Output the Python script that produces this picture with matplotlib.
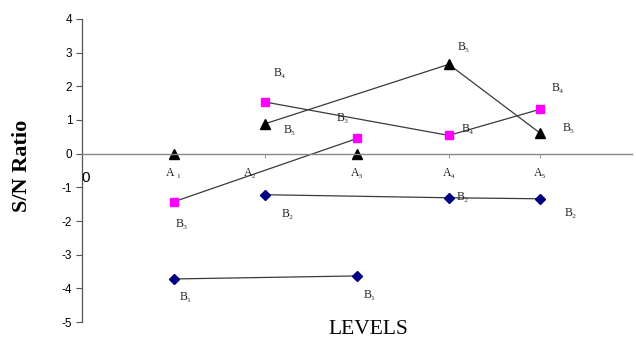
import matplotlib
matplotlib.use("Agg")
import matplotlib.pyplot as plt

# S/N ratio at each level
tri_x = [2, 4, 5]
tri_y = [0.89, 2.65, 0.60]
tri_axis_x = [1, 3]
tri_axis_y = [0.0, 0.0]

sq1_x = [1, 3]
sq1_y = [-1.43, 0.45]
sq2_x = [2, 4, 5]
sq2_y = [1.53, 0.54, 1.32]

dia1_x = [1, 3]
dia1_y = [-3.72, -3.63]
dia2_x = [2, 4, 5]
dia2_y = [-1.22, -1.31, -1.34]

level_labels = ["A \u2081", "A\u2082", "A\u2083", "A\u2084", "A\u2085"]
level_x = [1, 2, 3, 4, 5]

# data labels: (text, x, y, dx px, dy px)
point_labels = [
    ("B\u2084", 2, 1.53, 14, 29),
    ("B\u2085", 2, 0.89, 24, -6),
    ("B\u2083", 3, 0.45, -14, 20),
    ("B\u2085", 4, 2.65, 15, 17),
    ("B\u2084", 5, 1.32, 17, 21),
    ("B\u2085", 5, 0.60, 28, 5),
    ("B\u2084", 4, 0.54, 19, 6),
    ("B\u2082", 4, -1.31, 14, 1),
    ("B\u2082", 5, -1.34, 30, -14),
    ("B\u2083", 1, -1.43, 8, -22),
    ("B\u2082", 2, -1.22, 22, -19),
    ("B\u2081", 1, -3.72, 12, -18),
    ("B\u2081", 3, -3.63, 13, -19),
]
level_dx = [0, -15, 0, 0, 0]

serif = ["Liberation Serif", "DejaVu Serif"]
sans = ["Liberation Sans", "DejaVu Sans"]

fig = plt.figure(figsize=(6.36, 3.43), dpi=100)
ax = fig.add_axes([0.129, 0.061, 0.865, 0.884])
ax.set_xlim(0, 6)
ax.set_ylim(-5, 4)

line_c = "#3a3a3a"
ax.plot(tri_x, tri_y, color=line_c, lw=0.9, marker="^", ms=7, mfc="black", mec="black")
ax.plot(tri_axis_x, tri_axis_y, ls="none", marker="^", ms=7, mfc="black", mec="black")
ax.plot(sq1_x, sq1_y, color=line_c, lw=0.9, marker="s", ms=6, mfc="#ff00ff", mec="#ff00ff")
ax.plot(sq2_x, sq2_y, color=line_c, lw=0.9, marker="s", ms=6, mfc="#ff00ff", mec="#ff00ff")
ax.plot(dia1_x, dia1_y, color=line_c, lw=0.9, marker="D", ms=5, mfc="#000080", mec="#000080")
ax.plot(dia2_x, dia2_y, color=line_c, lw=0.9, marker="D", ms=5, mfc="#000080", mec="#000080")

for txt, x, y, dx, dy in point_labels:
    ax.annotate(txt, (x, y), xytext=(dx, dy), textcoords="offset pixels",
                ha="center", va="center", fontsize=8.5, family=serif, color="#222222")
for txt, x, dx in zip(level_labels, level_x, level_dx):
    ax.annotate(txt, (x, 0), xytext=(dx, -19), textcoords="offset pixels",
                ha="center", va="center", fontsize=8.5, family=serif, color="#222222")

# axes styling
for s in ["top", "right"]:
    ax.spines[s].set_visible(False)
ax.spines["bottom"].set_position(("data", 0))
ax.spines["bottom"].set_color("#888888")
ax.spines["left"].set_color("#555555")
ax.spines["bottom"].set_linewidth(1.0)
ax.spines["left"].set_linewidth(0.9)

ax.set_yticks(range(-5, 5))
ax.set_yticklabels([str(v) for v in range(-5, 5)], family=sans, fontsize=8.5)
ax.tick_params(axis="y", direction="out", length=4, width=0.8, color="#555555", pad=3)
ax.set_xticks(level_x)
ax.set_xticklabels([""] * len(level_x))
ax.tick_params(axis="x", direction="out", length=3, width=0.6, color="#888888")

ax.text(0.04, -0.72, "0", family=sans, fontsize=11, ha="center", va="center")

fig.text(0.035, 0.515, "S/N Ratio", rotation=90, ha="center", va="center",
         family=serif, fontsize=16, fontweight="bold")
fig.text(0.579, 0.04, "LEVELS", ha="center", va="center", family=serif, fontsize=15.5)

fig.savefig("out.png", dpi=100)
